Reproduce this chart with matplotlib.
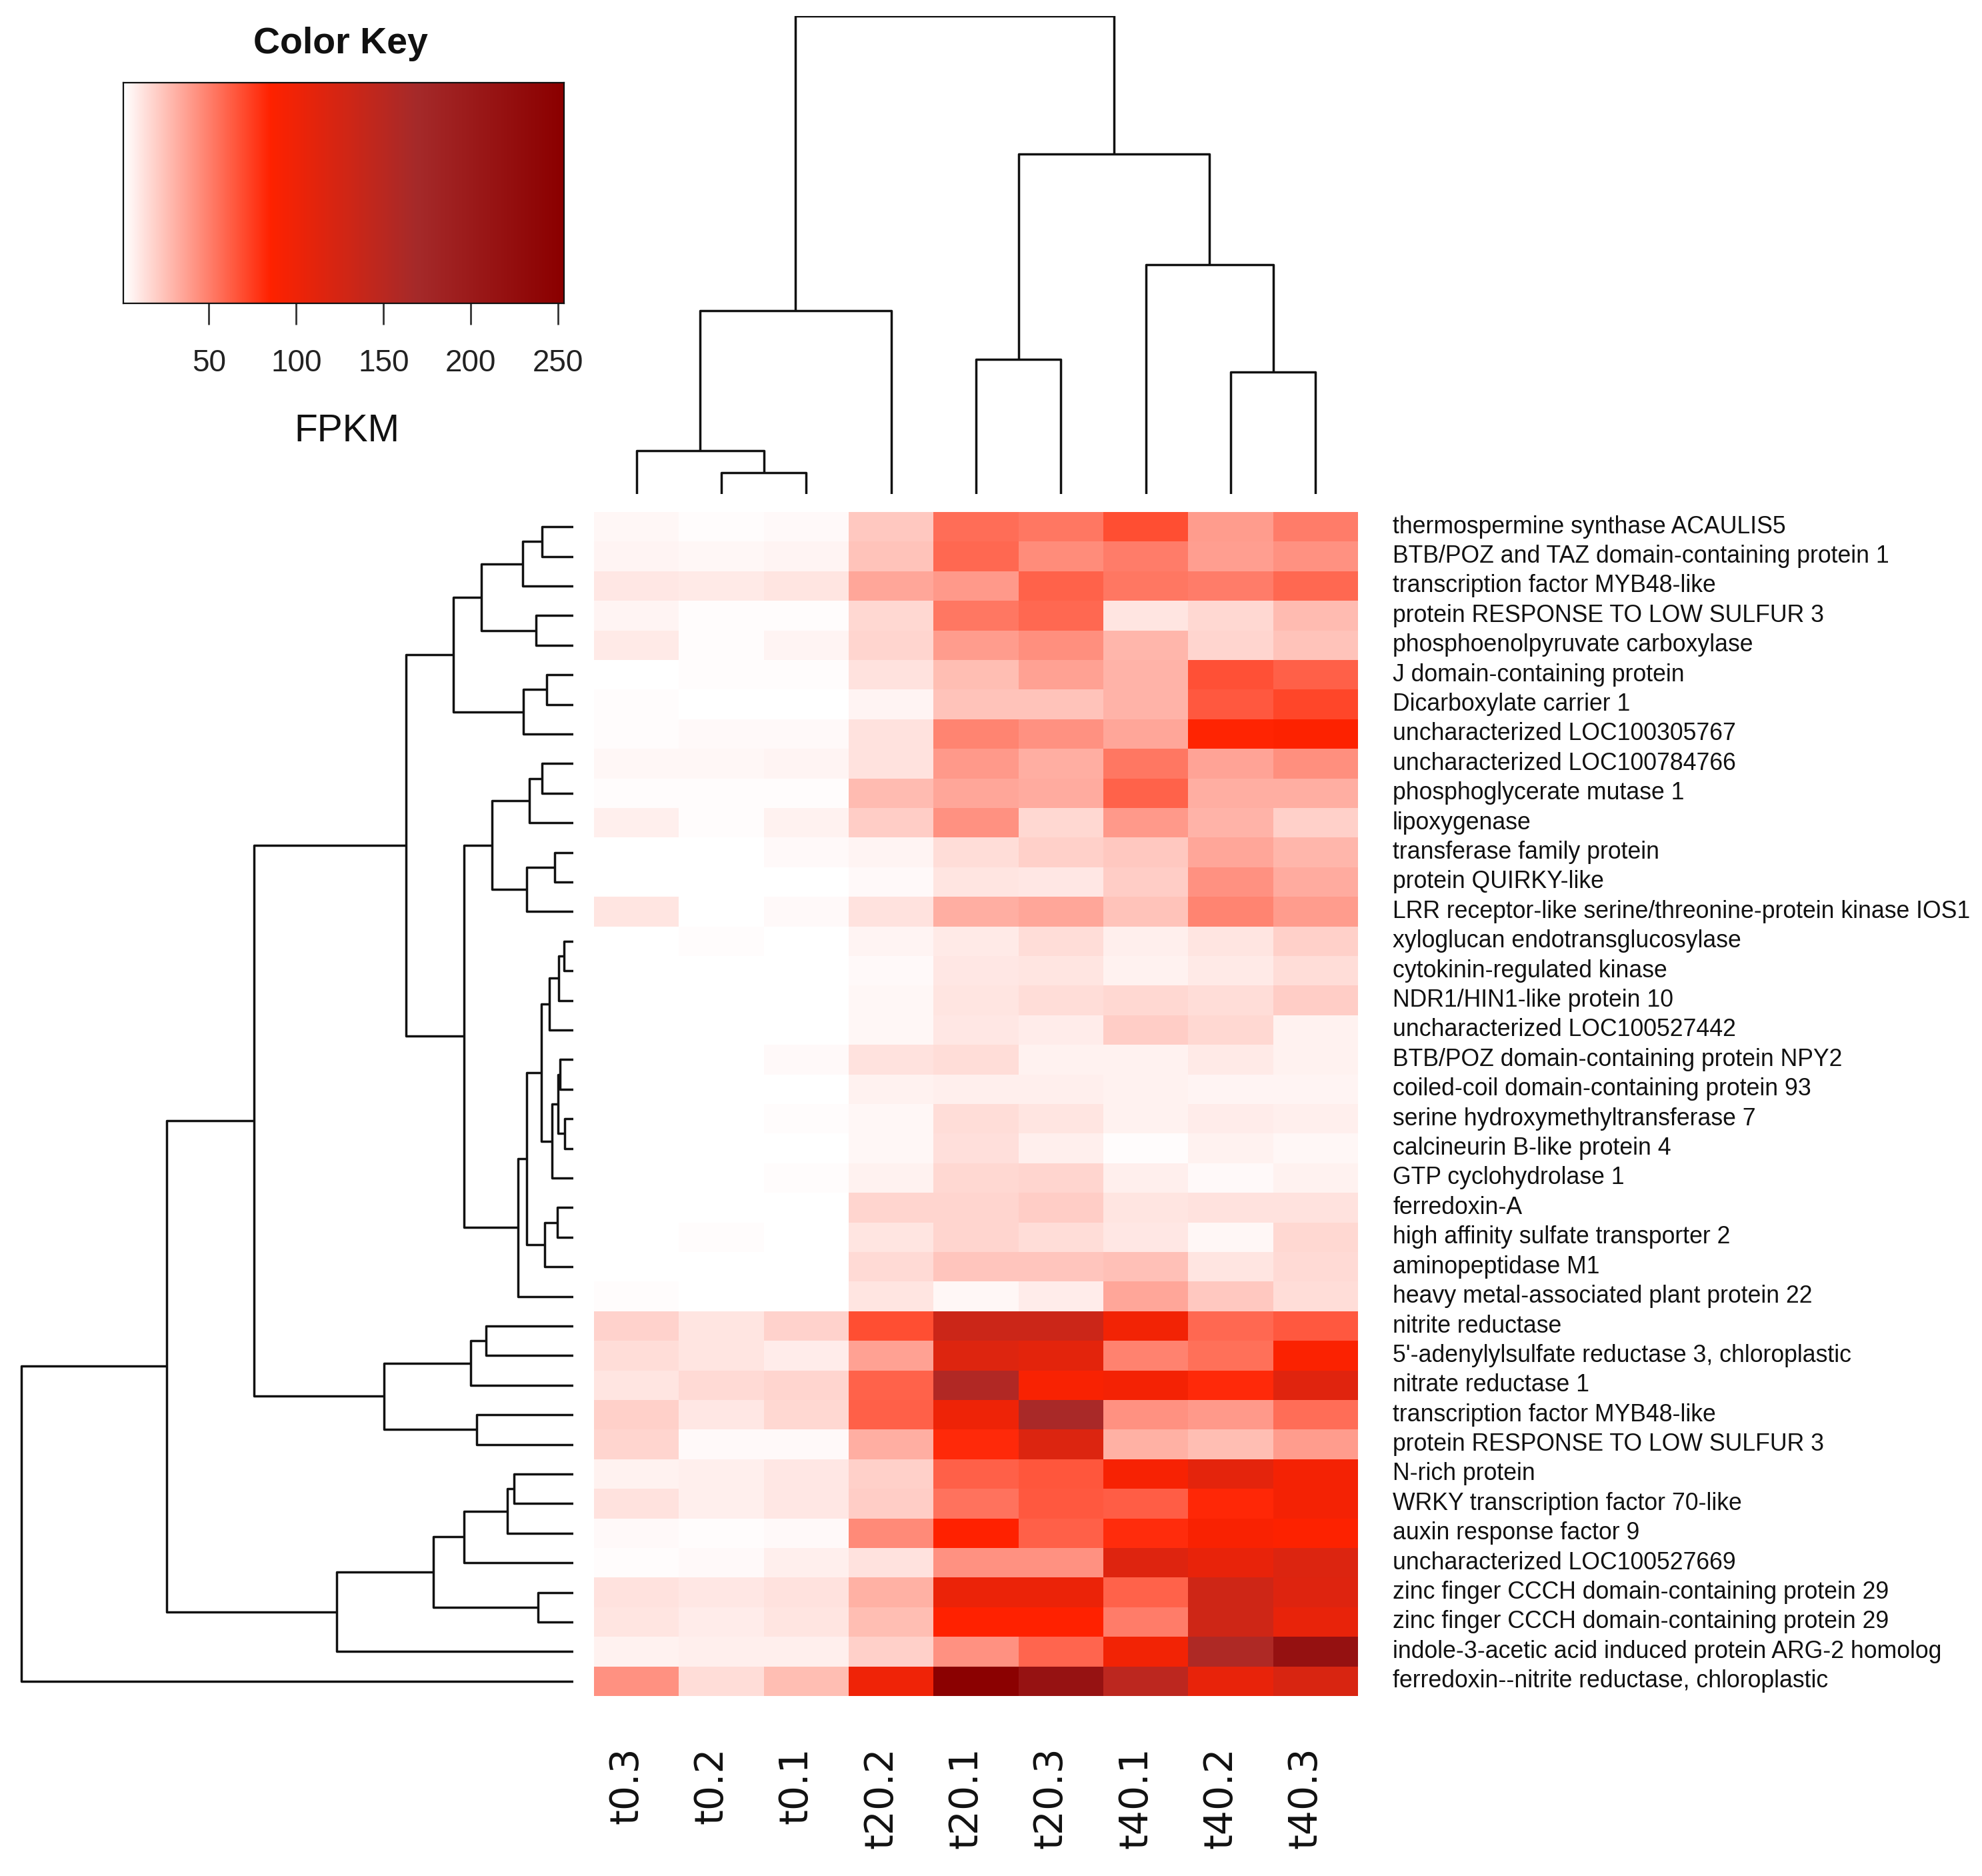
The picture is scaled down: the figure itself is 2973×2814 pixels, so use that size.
import matplotlib
matplotlib.use("Agg")
import matplotlib.pyplot as plt
import numpy as np
from matplotlib.colors import LinearSegmentedColormap

# samples (left to right) and genes (top to bottom), in the clustered order
samples = ["t0.3", "t0.2", "t0.1", "t20.2", "t20.1", "t20.3", "t40.1", "t40.2", "t40.3"]
genes = [
    "thermospermine synthase ACAULIS5",
    "BTB/POZ and TAZ domain-containing protein 1",
    "transcription factor MYB48-like",
    "protein RESPONSE TO LOW SULFUR 3",
    "phosphoenolpyruvate carboxylase",
    "J domain-containing protein",
    "Dicarboxylate carrier 1",
    "uncharacterized LOC100305767",
    "uncharacterized LOC100784766",
    "phosphoglycerate mutase 1",
    "lipoxygenase",
    "transferase family protein",
    "protein QUIRKY-like",
    "LRR receptor-like serine/threonine-protein kinase IOS1",
    "xyloglucan endotransglucosylase",
    "cytokinin-regulated kinase",
    "NDR1/HIN1-like protein 10",
    "uncharacterized LOC100527442",
    "BTB/POZ domain-containing protein NPY2",
    "coiled-coil domain-containing protein 93",
    "serine hydroxymethyltransferase 7",
    "calcineurin B-like protein 4",
    "GTP cyclohydrolase 1",
    "ferredoxin-A",
    "high affinity sulfate transporter 2",
    "aminopeptidase M1",
    "heavy metal-associated plant protein 22",
    "nitrite reductase",
    "5'-adenylylsulfate reductase 3, chloroplastic",
    "nitrate reductase 1",
    "transcription factor MYB48-like",
    "protein RESPONSE TO LOW SULFUR 3",
    "N-rich protein",
    "WRKY transcription factor 70-like",
    "auxin response factor 9",
    "uncharacterized LOC100527669",
    "zinc finger CCCH domain-containing protein 29",
    "zinc finger CCCH domain-containing protein 29",
    "indole-3-acetic acid induced protein ARG-2 homolog",
    "ferredoxin--nitrite reductase, chloroplastic",
]

# FPKM values (estimated from the colours), one row per gene
fpkm = [
    [4, 2, 3, 22, 57, 53, 68, 39, 51],
    [5, 4, 5, 24, 59, 45, 51, 38, 43],
    [10, 9, 11, 35, 40, 61, 53, 51, 59],
    [5, 2, 2, 16, 53, 59, 11, 16, 27],
    [9, 2, 5, 17, 39, 44, 29, 17, 24],
    [1.5, 2.5, 2.5, 12, 26, 37, 30, 67, 62],
    [2, 1, 1.5, 5, 24, 24, 30, 64, 71],
    [2.5, 3, 3, 12, 48, 43, 35, 84, 86],
    [4, 4, 5, 12, 40, 32, 53, 36, 44],
    [2, 2, 2, 27, 35, 33, 61, 32, 32],
    [7, 2, 6, 20, 43, 16, 40, 30, 19],
    [1, 1.5, 3, 5, 14, 19, 22, 35, 29],
    [1, 1, 1.5, 3, 11, 10, 20, 43, 33],
    [11, 1, 3, 12, 32, 35, 24, 48, 39],
    [1.5, 2, 1.5, 5, 9, 14, 7, 11, 19],
    [1.5, 1, 1, 3, 10, 11, 6, 9, 14],
    [1.5, 1, 1.5, 4, 11, 14, 16, 14, 20],
    [1, 1, 1, 4, 10, 8, 20, 16, 6],
    [1, 1, 3, 12, 14, 6, 6, 9, 6],
    [1, 1, 1.5, 6, 7, 7, 6, 5, 5],
    [1.5, 1.5, 2, 4, 14, 11, 6, 8, 7],
    [1, 1.5, 1.5, 4, 13, 7, 2.5, 6, 4],
    [1, 1.5, 2, 6, 16, 17, 7, 3.5, 6],
    [1, 1, 1, 17, 17, 20, 11, 12, 12],
    [1, 2.5, 1, 11, 17, 14, 10, 4, 16],
    [1, 1, 1, 15, 23, 23, 25, 11, 15],
    [2, 1, 1, 11, 4, 8, 35, 22, 14],
    [18, 11, 18, 68, 133, 133, 97, 59, 64],
    [14, 11, 8, 37, 117, 111, 49, 56, 88],
    [11, 15, 17, 61, 157, 91, 95, 82, 114],
    [19, 10, 16, 62, 101, 165, 43, 40, 57],
    [17, 3.5, 3.5, 32, 82, 118, 31, 26, 39],
    [6, 7, 10, 19, 62, 65, 92, 110, 95],
    [12, 7, 10, 20, 55, 64, 63, 83, 95],
    [3, 2.5, 3.5, 46, 85, 62, 81, 90, 86],
    [2, 3, 7, 12, 43, 43, 116, 106, 118],
    [12, 10, 12, 31, 103, 103, 61, 130, 116],
    [11, 8, 11, 26, 85, 85, 51, 130, 106],
    [6, 7, 7, 19, 43, 60, 97, 160, 218],
    [43, 14, 26, 100, 250, 215, 147, 106, 121],
]

# dendrogram merges: (child a, child b, height); ids >= n are earlier merges
col_merges = [
    (1, 2, 32), (0, 9, 65), (10, 3, 275), (4, 5, 202),
    (7, 8, 183), (6, 13, 344), (12, 14, 510), (11, 15, 717),
]
row_merges = [
    (0, 1, 47), (40, 2, 76), (3, 4, 56), (41, 42, 138),
    (5, 6, 40), (44, 7, 75), (43, 45, 180),
    (8, 9, 47), (47, 10, 66), (11, 12, 28), (49, 13, 70), (48, 50, 122),
    (14, 15, 13.6), (52, 16, 22), (53, 17, 36),
    (18, 19, 20), (20, 21, 13), (55, 56, 23), (57, 22, 32), (54, 58, 48),
    (23, 24, 24.5), (60, 25, 43), (59, 61, 70), (62, 26, 83),
    (51, 63, 164), (46, 64, 251),
    (27, 28, 131), (66, 29, 154), (30, 31, 145), (67, 68, 284),
    (65, 69, 479),
    (32, 33, 89), (71, 34, 99), (72, 35, 164), (36, 37, 53),
    (73, 74, 210), (75, 38, 355),
    (70, 76, 610), (77, 39, 828),
]

key_ticks = [50, 100, 150, 200, 250]
key_range = (1, 253)

W, H = 2973, 2814
DPI = 100
fig = plt.figure(figsize=(W / DPI, H / DPI), dpi=DPI)
fig.patch.set_facecolor("white")


def px_axes(x0, y0, x1, y1):
    # axes from pixel box (top-left origin)
    return fig.add_axes([x0 / W, 1 - y1 / H, (x1 - x0) / W, (y1 - y0) / H])


cmap = LinearSegmentedColormap.from_list(
    "key", ["#FFFFFF", "#FF2200", "#A52A2A", "#8B0000"])

sans = ["Liberation Sans", "DejaVu Sans"]

# heatmap
data = np.array(fpkm, dtype=float)
hx0, hy0, hx1, hy1 = 891, 768, 2037, 2544
ax = px_axes(hx0, hy0, hx1, hy1)
ax.imshow(data, cmap=cmap, vmin=key_range[0], vmax=key_range[1],
          aspect="auto", interpolation="nearest",
          extent=(0, len(samples), len(genes), 0))
ax.set_xlim(0, len(samples))
ax.set_ylim(len(genes), 0)
ax.axis("off")

# row labels
for i, g in enumerate(genes):
    ax.text(1 + 52 / (hx1 - hx0), i + 0.5, g, transform=ax.get_yaxis_transform(),
            ha="left", va="center", fontsize=25.7, family=sans,
            color="#111111")

# column labels
for j, s in enumerate(samples):
    ax.text(j + 0.5 - 0.12, -76 / (hy1 - hy0), s, transform=ax.get_xaxis_transform(),
            rotation=90, ha="center", va="top", fontsize=42,
            family="DejaVu Sans", color="#111111")


def draw_dendro(axd, merges, n, vertical):
    pos = {i: i + 0.5 for i in range(n)}
    hgt = {i: 0.0 for i in range(n)}
    for k, (a, b, h) in enumerate(merges):
        xs = [pos[a], pos[a], pos[b], pos[b]]
        ys = [hgt[a], h, h, hgt[b]]
        if vertical:
            axd.plot(xs, ys, color="#111111", lw=2.5, solid_capstyle="butt")
        else:
            axd.plot(ys, xs, color="#111111", lw=2.5, solid_capstyle="butt")
        pos[n + k] = (pos[a] + pos[b]) / 2
        hgt[n + k] = h


# column dendrogram
axc = px_axes(hx0, 24, hx1, 741)
draw_dendro(axc, col_merges, len(samples), True)
axc.set_xlim(0, len(samples))
axc.set_ylim(0, 717)
axc.axis("off")

# row dendrogram
axr = px_axes(30, hy0, 860, hy1)
draw_dendro(axr, row_merges, len(genes), False)
axr.set_xlim(830, 0)
axr.set_ylim(len(genes), 0)
axr.axis("off")

# colour key
axk = px_axes(185, 124, 846, 455)
grad = np.linspace(key_range[0], key_range[1], 512)[None, :]
axk.imshow(grad, cmap=cmap, vmin=key_range[0], vmax=key_range[1],
           aspect="auto", extent=(key_range[0], key_range[1], 0, 1))
axk.set_xlim(key_range[0], key_range[1] + 0.3)
axk.set_ylim(0, 1)
axk.set_yticks([])
axk.set_xticks(key_ticks)
axk.set_xticklabels([str(t) for t in key_ticks], family=sans, fontsize=33,
                    color="#222222")
axk.tick_params(axis="x", direction="out", length=23, width=2,
                color="#333333", pad=26)
for sp in axk.spines.values():
    sp.set_linewidth(1.6)
    sp.set_color("#111111")
fig.text(511 / W, 1 - 66 / H, "Color Key", ha="center", va="center",
         fontsize=40, fontweight="bold", family=sans, color="#111111")
fig.text(520 / W, 1 - 647 / H, "FPKM", ha="center", va="center",
         fontsize=41, family=sans, color="#111111")

fig.savefig("out.png", dpi=DPI, facecolor="white")
